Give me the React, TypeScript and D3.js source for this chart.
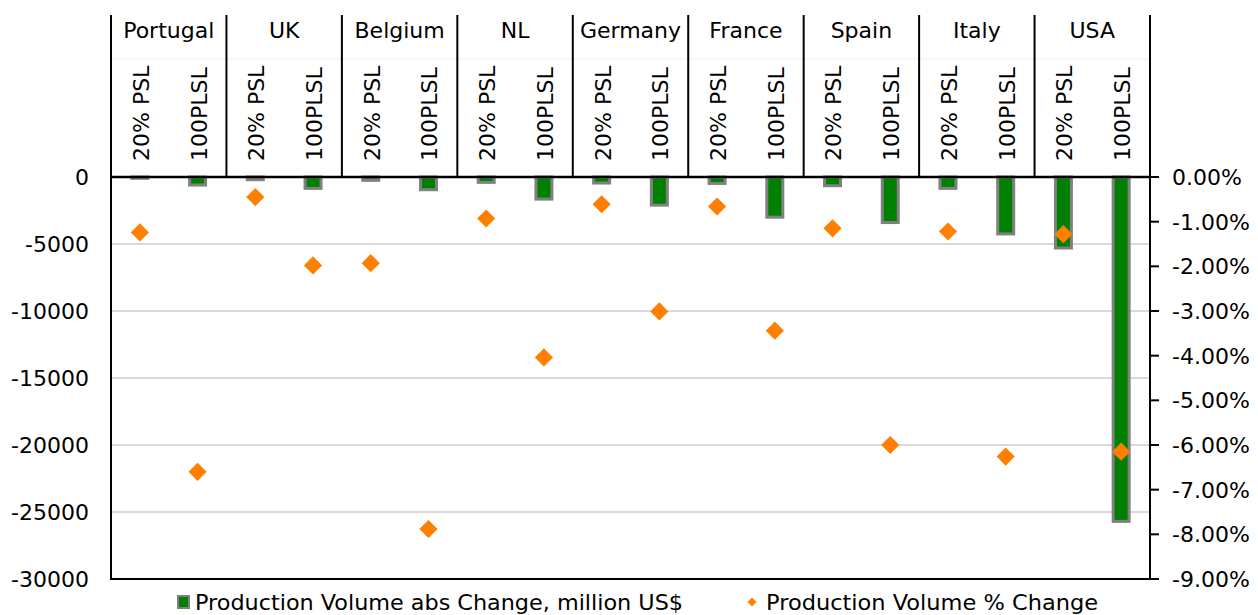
import React, { useEffect, useRef } from 'react';
import * as d3 from 'd3';

const countries = ['Portugal', 'UK', 'Belgium', 'NL', 'Germany', 'France', 'Spain', 'Italy', 'USA'];
const scenarios = ['20% PSL', '100PLSL'];

// production volume abs change, million US$
const absPSL20 = [-100, -200, -250, -400, -450, -480, -650, -850, -5300];
const absPLSL100 = [-600, -850, -950, -1650, -2100, -3000, -3400, -4250, -25700];

// production volume % change
const pctPSL20 = [-1.24, -0.45, -1.93, -0.93, -0.61, -0.66, -1.15, -1.22, -1.28];
const pctPLSL100 = [-6.6, -1.98, -7.88, -4.04, -3.01, -3.44, -6.0, -6.26, -6.15];

const leftTicks = [0, -5000, -10000, -15000, -20000, -25000, -30000];
const rightTicks = [0, -1, -2, -3, -4, -5, -6, -7, -8, -9];

const legendLabels = ['Production Volume abs Change, million US$', 'Production Volume % Change'];

const App = () => {
  const svgRef = useRef<SVGSVGElement>(null);
  const width = 1258;
  const height = 615;

  useEffect(() => {
    const svg = d3.select(svgRef.current);
    svg.selectAll('*').remove();

    const font = "'DejaVu Sans', Verdana, sans-serif";
    const left = 111, right = 1150, top = 15, zeroY = 177, bottom = 579;

    const x0 = d3.scaleBand().domain(countries).range([left, right]);
    const x1 = d3.scaleBand().domain(scenarios).range([0, x0.bandwidth()]);
    const yAbs = d3.scaleLinear().domain([0, -30000]).range([zeroY, bottom]);
    const yPct = d3.scaleLinear().domain([0, -9]).range([zeroY, bottom]);

    const rows = countries.flatMap((c, i) => [
      { country: c, scenario: scenarios[0], abs: absPSL20[i], pct: pctPSL20[i] },
      { country: c, scenario: scenarios[1], abs: absPLSL100[i], pct: pctPLSL100[i] },
    ]);
    const cx = (d: any) => x0(d.country)! + x1(d.scenario)! + x1.bandwidth() / 2;

    // gridlines
    svg.append('g')
      .selectAll('line')
      .data(leftTicks.slice(1, -1))
      .enter().append('line')
      .attr('x1', left).attr('x2', right)
      .attr('y1', d => yAbs(d)).attr('y2', d => yAbs(d))
      .attr('stroke', '#d9d9d9')
      .attr('stroke-width', 2);

    // header separators
    svg.append('line')
      .attr('x1', left).attr('x2', right)
      .attr('y1', 59).attr('y2', 59)
      .attr('stroke', '#f0f0f0')
      .attr('stroke-width', 1);

    svg.append('g')
      .selectAll('line')
      .data(countries.slice(1))
      .enter().append('line')
      .attr('x1', d => x0(d)!).attr('x2', d => x0(d)!)
      .attr('y1', top).attr('y2', zeroY)
      .attr('stroke', '#000')
      .attr('stroke-width', 2);

    // country names
    svg.append('g')
      .selectAll('text')
      .data(countries)
      .enter().append('text')
      .attr('x', d => x0(d)! + x0.bandwidth() / 2)
      .attr('y', 38)
      .attr('text-anchor', 'middle')
      .style('font-family', font)
      .style('font-size', '22px')
      .text(d => d);

    // scenario labels
    svg.append('g')
      .selectAll('text')
      .data(rows)
      .enter().append('text')
      .attr('transform', d => `translate(${cx(d) + 1},161) rotate(-90)`)
      .attr('dy', '0.36em')
      .style('font-family', font)
      .style('font-size', '22px')
      .text(d => d.scenario);

    // bars
    const barW = 16;
    svg.append('g')
      .selectAll('rect')
      .data(rows)
      .enter().append('rect')
      .attr('x', d => cx(d) - barW / 2)
      .attr('y', zeroY)
      .attr('width', barW)
      .attr('height', d => yAbs(d.abs) - zeroY)
      .attr('fill', '#008000')
      .attr('stroke', '#808080')
      .attr('stroke-width', 3);

    // diamonds
    const diamond = d3.symbol().type(d3.symbolSquare).size(165);
    svg.append('g')
      .selectAll('path')
      .data(rows)
      .enter().append('path')
      .attr('d', diamond)
      .attr('transform', d => `translate(${cx(d)},${yPct(d.pct)}) rotate(45)`)
      .attr('fill', '#ff7f00');

    // axes lines
    svg.append('line')
      .attr('x1', left).attr('x2', left).attr('y1', top).attr('y2', bottom + 1)
      .attr('stroke', '#000').attr('stroke-width', 2);
    svg.append('line')
      .attr('x1', right).attr('x2', right).attr('y1', top).attr('y2', bottom + 1)
      .attr('stroke', '#000').attr('stroke-width', 2);
    svg.append('line')
      .attr('x1', left).attr('x2', right).attr('y1', zeroY).attr('y2', zeroY)
      .attr('stroke', '#000').attr('stroke-width', 2.5);
    svg.append('line')
      .attr('x1', left).attr('x2', right).attr('y1', bottom).attr('y2', bottom)
      .attr('stroke', '#000').attr('stroke-width', 2);

    // left axis labels
    svg.append('g')
      .selectAll('text')
      .data(leftTicks)
      .enter().append('text')
      .attr('x', 89)
      .attr('y', d => yAbs(d))
      .attr('dy', '0.36em')
      .attr('text-anchor', 'end')
      .style('font-family', font)
      .style('font-size', '22px')
      .text(d => d3.format('d')(d).replace('−', '-'));

    // right axis
    const rg = svg.append('g')
      .selectAll('g')
      .data(rightTicks)
      .enter().append('g')
      .attr('transform', d => `translate(${right},${yPct(d)})`);
    rg.append('line')
      .attr('x1', 0).attr('x2', 9)
      .attr('stroke', '#000').attr('stroke-width', 2);
    rg.append('text')
      .attr('x', 22)
      .attr('dy', '0.36em')
      .style('font-family', font)
      .style('font-size', '22px')
      .text(d => d.toFixed(2) + '%');

    // legend
    const ly = 602;
    svg.append('rect')
      .attr('x', 178).attr('y', ly - 6).attr('width', 11).attr('height', 12)
      .attr('fill', '#008000').attr('stroke', '#808080').attr('stroke-width', 2);
    svg.append('text')
      .attr('x', 195).attr('y', ly).attr('dy', '0.36em')
      .attr('textLength', 488).attr('lengthAdjust', 'spacingAndGlyphs')
      .style('font-family', font).style('font-size', '21px')
      .text(legendLabels[0]);
    svg.append('path')
      .attr('d', d3.symbol().type(d3.symbolSquare).size(40))
      .attr('transform', `translate(752,${ly}) rotate(45)`)
      .attr('fill', '#ff7f00');
    svg.append('text')
      .attr('x', 766).attr('y', ly).attr('dy', '0.36em')
      .attr('textLength', 332).attr('lengthAdjust', 'spacingAndGlyphs')
      .style('font-family', font).style('font-size', '21px')
      .text(legendLabels[1]);
  }, []);

  return (
    <svg
      ref={svgRef}
      width={width}
      height={height}
      style={{ position: 'absolute', left: 0, top: 0, background: '#fff' }}
    />
  );
};

export default App;
